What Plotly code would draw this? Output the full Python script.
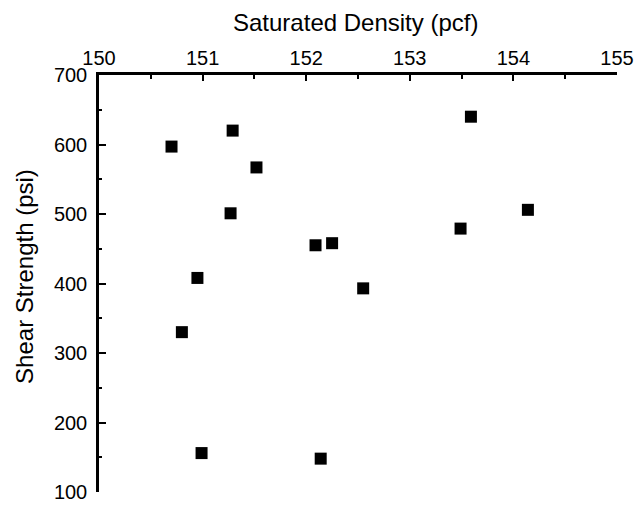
import plotly.graph_objects as go

density = [150.70, 151.29, 151.52, 151.27, 150.95, 150.80, 150.99,
           152.09, 152.25, 152.55, 152.14, 153.49, 153.59, 154.14]
strength = [597, 620, 567, 501, 408, 330, 156,
            455, 458, 393, 148, 479, 640, 506]

x_ticks = [150, 151, 152, 153, 154, 155]
y_ticks = [100, 200, 300, 400, 500, 600, 700]

font_family = "Liberation Sans, Arial, sans-serif"

fig = go.Figure()
fig.add_trace(go.Scatter(
    x=density, y=strength, mode="markers",
    marker=dict(symbol="square", size=12, color="black", line=dict(width=0)),
    showlegend=False, hoverinfo="skip", cliponaxis=False,
))

fig.update_layout(
    width=638, height=510,
    margin=dict(l=99, r=21, t=75, b=18, autoexpand=False),
    paper_bgcolor="white", plot_bgcolor="white",
    font=dict(family=font_family, size=20, color="black"),
    xaxis=dict(
        side="top", range=[150, 155], tickvals=x_ticks,
        ticktext=[str(v) for v in x_ticks], automargin=False,
        showline=True, linecolor="black", linewidth=2.5,
        ticks="inside", ticklen=6, tickwidth=2, tickcolor="black",
        minor=dict(dtick=0.5, tick0=150, ticks="inside", ticklen=4, tickwidth=2, tickcolor="black"),
        showgrid=False, zeroline=False, ticklabelstandoff=-1,
        tickfont=dict(size=20),
    ),
    yaxis=dict(
        range=[100, 700], tickvals=y_ticks,
        ticktext=[str(v) for v in y_ticks], automargin=False,
        showline=True, linecolor="black", linewidth=2.5,
        ticks="inside", ticklen=7, tickwidth=2, tickcolor="black",
        minor=dict(dtick=50, tick0=100, ticks="inside", ticklen=3, tickwidth=2, tickcolor="black"),
        showgrid=False, zeroline=False, ticklabelstandoff=5,
        tickfont=dict(size=20),
    ),
    annotations=[
        dict(text="Saturated Density (pcf)", xref="paper", yref="paper",
             x=0.495, y=1.127, xanchor="center", yanchor="middle",
             showarrow=False, font=dict(size=24)),
        dict(text="Shear Strength (psi)", xref="paper", yref="paper",
             x=-0.143, y=0.518, xanchor="center", yanchor="middle",
             textangle=-90, showarrow=False, font=dict(size=24)),
    ],
)

fig.write_html("out.html")
